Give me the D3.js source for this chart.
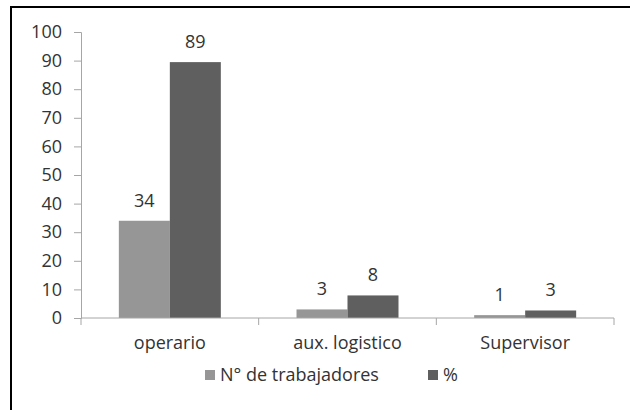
<!DOCTYPE html>
<html>
<head>
<meta charset="utf-8">
<script src="https://cdn.jsdelivr.net/npm/d3@7"></script>
<style>
  body { margin: 0; background: #fff; }
  svg text { font-family: "Open Sans", sans-serif; fill: #333; }
</style>
</head>
<body>
<div id="container"></div>
<script>
// data
const categories = ["operario", "aux. logistico", "Supervisor"];
const seriesNames = ["N° de trabajadores", "%"];
const trabajadores = [34, 3, 1];
const porcentaje = [89.47, 7.89, 2.63];
const yTicks = [0, 10, 20, 30, 40, 50, 60, 70, 80, 90, 100];

const colors = ["#969696", "#5f5f5f"];

const w = 630, h = 410;
const plot = { left: 81, right: 614, top: 32, bottom: 318 };

const svg = d3.select("#container")
  .append("svg")
  .attr("width", w)
  .attr("height", h);

// outer frame (only top/left edges are visible in the shot)
svg.append("rect")
  .attr("x", 11)
  .attr("y", 7)
  .attr("width", 700)
  .attr("height", 500)
  .attr("fill", "none")
  .attr("stroke", "#000")
  .attr("stroke-width", 2);

const xScale = d3.scaleBand()
  .domain(categories)
  .range([plot.left, plot.right]);

const xSub = d3.scaleBand()
  .domain(seriesNames)
  .range([0, xScale.bandwidth()])
  .paddingOuter(0.742);

const yScale = d3.scaleLinear()
  .domain([0, 100])
  .range([plot.bottom, plot.top]);

// y axis
const yAxis = svg.append("g")
  .attr("transform", "translate(" + plot.left + ",0)")
  .call(d3.axisLeft(yScale).tickValues(yTicks).tickSize(7).tickPadding(12));
yAxis.select(".domain").attr("stroke", "#a6a6a6");
yAxis.selectAll(".tick line").attr("stroke", "#a6a6a6");
yAxis.selectAll(".tick text")
  .style("font-size", "18px")
  .attr("fill", "#333");

// bars
const rows = categories.map((c, i) => ({ cat: c, vals: [trabajadores[i], porcentaje[i]] }));

const groups = svg.selectAll("g.cat")
  .data(rows)
  .enter()
  .append("g")
  .attr("class", "cat")
  .attr("transform", d => "translate(" + xScale(d.cat) + ",0)");

groups.selectAll("rect")
  .data(d => d.vals.map((v, j) => ({ s: seriesNames[j], v: v, j: j })))
  .enter()
  .append("rect")
  .attr("x", d => xSub(d.s))
  .attr("y", d => yScale(d.v))
  .attr("width", xSub.bandwidth())
  .attr("height", d => plot.bottom - yScale(d.v))
  .attr("fill", d => colors[d.j]);

groups.selectAll("text.lbl")
  .data(d => d.vals.map((v, j) => ({ s: seriesNames[j], v: v })))
  .enter()
  .append("text")
  .attr("class", "lbl")
  .attr("x", d => xSub(d.s) + xSub.bandwidth() / 2)
  .attr("y", d => yScale(d.v) - 14)
  .attr("text-anchor", "middle")
  .style("font-size", "18px")
  .text(d => d3.format(".0f")(d.v));

// x axis
const xa = svg.append("g");
xa.append("line")
  .attr("x1", plot.left).attr("x2", plot.right)
  .attr("y1", plot.bottom).attr("y2", plot.bottom)
  .attr("stroke", "#a6a6a6");
const bounds = categories.map(c => xScale(c)).concat([xScale.range()[1]]);
xa.selectAll("line.tk")
  .data(bounds)
  .enter()
  .append("line")
  .attr("class", "tk")
  .attr("x1", d => d).attr("x2", d => d)
  .attr("y1", plot.bottom).attr("y2", plot.bottom + 7)
  .attr("stroke", "#a6a6a6");
xa.selectAll("text")
  .data(categories)
  .enter()
  .append("text")
  .attr("x", d => xScale(d) + xScale.bandwidth() / 2)
  .attr("y", 349)
  .attr("text-anchor", "middle")
  .style("font-size", "18px")
  .text(d => d);

// legend
const legendX = [205, 428];
const legend = svg.selectAll("g.legend")
  .data(seriesNames)
  .enter()
  .append("g")
  .attr("class", "legend")
  .attr("transform", (d, i) => "translate(" + legendX[i] + ",0)");
legend.append("rect")
  .attr("x", 0).attr("y", 370)
  .attr("width", 10).attr("height", 10)
  .attr("fill", (d, i) => colors[i]);
legend.append("text")
  .attr("x", 15)
  .attr("y", 381)
  .style("font-size", "18px")
  .text(d => d);
</script>
</body>
</html>
